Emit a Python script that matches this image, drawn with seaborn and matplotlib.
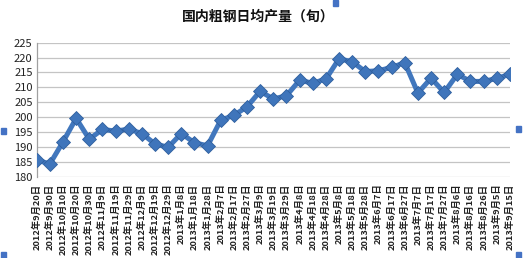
import matplotlib
matplotlib.use("Agg")
import matplotlib.pyplot as plt
import seaborn as sns
import pandas as pd
from matplotlib.patches import Rectangle

dates = ["2012年9月20日", "2012年9月30日", "2012年10月10日", "2012年10月20日", "2012年10月30日",
         "2012年11月9日", "2012年11月19日", "2012年11月29日", "2012年12月9日", "2012年12月19日",
         "2012年12月29日", "2013年1月8日", "2013年1月18日", "2013年1月28日", "2013年2月7日",
         "2013年2月17日", "2013年2月27日", "2013年3月9日", "2013年3月19日", "2013年3月29日",
         "2013年4月8日", "2013年4月18日", "2013年4月28日", "2013年5月8日", "2013年5月18日",
         "2013年5月28日", "2013年6月7日", "2013年6月17日", "2013年6月27日", "2013年7月7日",
         "2013年7月17日", "2013年7月27日", "2013年8月6日", "2013年8月16日", "2013年8月26日",
         "2013年9月5日", "2013年9月15日"]
output = [185.6, 184.3, 191.7, 199.6, 192.6, 195.9, 195.3, 196.0, 194.5, 191.0,
          189.9, 194.5, 191.4, 190.4, 199.0, 200.6, 203.5, 208.7, 206.1, 207.2,
          212.4, 211.4, 212.8, 219.6, 218.6, 215.3, 215.6, 216.7, 218.3, 208.1,
          213.1, 208.3, 214.4, 212.0, 212.0, 213.0, 214.4]
yticks = [180, 185, 190, 195, 200, 205, 210, 215, 220, 225]

sns.set_theme(style="white")
plt.rcParams['font.family'] = ['Noto Sans CJK SC', 'DejaVu Sans']

df = pd.DataFrame({"idx": range(len(dates)), "val": output})

fig = plt.figure(figsize=(5.23, 2.58), dpi=100)
fig.patch.set_facecolor("white")
ax = fig.add_axes([0.0702, 0.315, 0.975 - 0.0702, 0.8345 - 0.315])

for y in yticks:
    ax.axhline(y, color="#c4c4c4", lw=0.9, zorder=0)

sns.lineplot(data=df, x="idx", y="val", ax=ax, color="#4177bd", lw=3.6,
             marker="D", markersize=7.5, markerfacecolor="#3f75bb",
             markeredgecolor="#2f5f9e", markeredgewidth=0.6, zorder=3)

ax.set_xlim(0, len(dates) - 1)
ax.set_ylim(180, 225)
ax.set_yticks(yticks)
ax.set_yticklabels([str(v) for v in yticks], fontsize=8, color="#222222")
ax.set_xticks(range(len(dates)))
ax.set_xticklabels(dates, rotation=90, fontsize=6.7, color="#222222", fontweight="bold")
ax.tick_params(axis="both", length=0, pad=3)
ax.tick_params(axis="x", pad=5)
ax.set_xlabel("")
ax.set_ylabel("")
for s in ["top", "right", "bottom"]:
    ax.spines[s].set_visible(False)
ax.spines["left"].set_color("#a0a0a0")
ax.spines["left"].set_linewidth(0.9)

fig.text(0.494, 0.935, "国内粗钢日均产量（旬）", ha="center", va="center",
         fontsize=10, fontweight="bold", color="#111111")

# chart selection handles
W, H = 523, 258
for (px, py) in [(333, 0), (1, 128), (516, 126), (1, 252), (516, 252)]:
    fig.patches.append(Rectangle((px / W, 1 - (py + 6) / H), 5 / W, 6 / H,
                                 transform=fig.transFigure, color="#4472c4", zorder=10))

fig.savefig("out.png", dpi=100)
